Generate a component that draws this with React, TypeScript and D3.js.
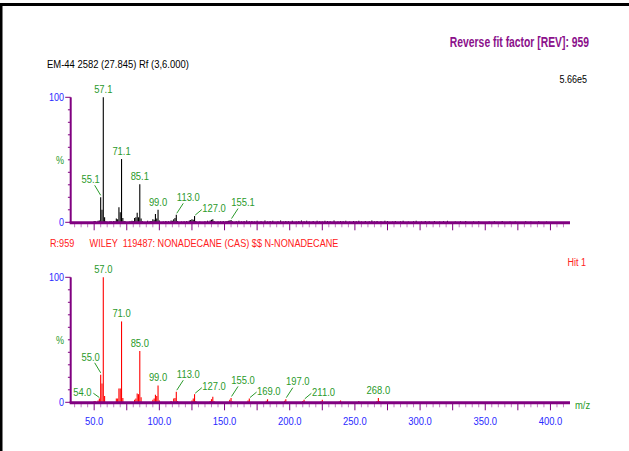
import React from "react";
import * as d3 from "d3";

// sample spectrum (top, black) – m/z and relative intensity in %
const sampleMz = [50, 51, 53, 54, 55, 56, 57, 58, 59, 60, 62, 63, 65, 66, 67, 68, 69, 70, 71, 72, 73, 74, 77, 78, 79, 80, 81, 82, 83, 84, 85, 86, 87, 91, 93, 94, 95, 96, 97, 98, 99, 100, 103, 105, 107, 109, 110, 111, 112, 113, 114, 117, 119, 121, 123, 124, 125, 126, 127, 128, 131, 135, 137, 139, 140, 141, 142, 145, 147, 149, 151, 152, 153, 154, 155, 156, 159, 161, 163, 165, 167, 169, 171, 173, 175, 178, 181, 183, 185, 187, 191, 193, 195, 197, 199, 202, 205, 207, 209, 211, 213, 215, 218, 221, 223, 225, 227, 229, 231, 234, 237, 239, 241, 243, 246, 249, 251, 253, 255, 258, 261, 263, 265, 267, 270, 273, 275, 279, 281, 285, 287, 291, 295, 297, 301, 304, 307, 311, 315, 318, 321, 327, 331, 335, 341, 345, 353, 357, 363, 369, 373, 381, 385, 391, 397];
const sampleInt = [1, 0.8, 1.2, 1.5, 20, 10, 100, 4, 0.8, 0.5, 0.6, 0.8, 1, 0.8, 3, 2.5, 12, 8, 50.6, 3.5, 1, 0.6, 0.7, 0.6, 1.2, 1, 3.5, 4, 7.7, 4, 30.4, 3, 0.8, 1.2, 1, 0.8, 2.5, 2, 6.6, 3, 10, 1.5, 0.6, 1, 0.8, 1.5, 1.2, 2.5, 3.5, 6, 1, 0.6, 0.8, 1, 1.5, 1.8, 2.5, 2, 5, 1, 0.7, 0.8, 1.2, 1.5, 2, 2.5, 1, 0.6, 0.8, 1, 0.8, 1, 1.2, 1.5, 1.8, 0.8, 0.9, 1.2, 0.7, 1, 1.4, 0.8, 1.1, 0.6, 1.3, 0.9, 1.5, 0.7, 1, 1.2, 0.8, 1.4, 0.6, 1.1, 0.9, 1.3, 0.7, 1, 1.5, 0.8, 1.2, 0.6, 1, 1.3, 0.9, 0.7, 1.2, 1, 0.8, 1.4, 0.6, 1.1, 0.9, 1.3, 0.7, 1, 0.8, 1.2, 0.6, 1.1, 0.9, 1.4, 0.7, 1, 0.8, 1.2, 1, 0.6, 1.1, 0.8, 1.3, 0.7, 0.9, 1.2, 0.6, 1, 0.8, 1.1, 0.7, 0.9, 1.2, 0.6, 0.8, 1, 0.7, 0.9, 0.6, 0.8, 1, 0.7, 0.6, 0.8, 0.7, 0.9, 0.6];

// library spectrum (bottom, red)
const libMz = [50, 51, 53, 54, 55, 56, 57, 58, 67, 68, 69, 70, 71, 72, 81, 82, 83, 84, 85, 86, 95, 96, 97, 98, 99, 100, 109, 111, 112, 113, 114, 125, 126, 127, 128, 139, 140, 141, 142, 154, 155, 156, 168, 169, 182, 183, 196, 197, 210, 211, 224, 225, 238, 239, 253, 267, 268, 269];
const libInt = [1, 0.8, 1.5, 3, 22, 15, 100, 5, 3, 3, 11, 11, 64.7, 3.5, 2, 3, 7, 6.5, 41, 4, 2, 3, 6, 5, 13.5, 1.5, 1, 3, 3.5, 8.5, 1, 1.5, 3, 6.5, 1, 1, 2.5, 4.5, 0.8, 2, 3.5, 0.6, 1.5, 3, 1.2, 2.5, 1.2, 2.5, 1, 2, 0.8, 2, 0.7, 1.5, 1, 1, 3.5, 1];

// peak annotations: m/z, text, placement kind
const sampleLabels: [number, string, string][] = [
  [55, "55.1", "upleft"], [57, "57.1", "above"], [71, "71.1", "above"], [85, "85.1", "above"],
  [99, "99.0", "above"], [113, "113.0", "upright"], [127, "127.0", "right"], [155, "155.1", "upright"],
];
const libLabels: [number, string, string][] = [
  [54, "54.0", "left"], [55, "55.0", "upleft"], [57, "57.0", "above"], [71, "71.0", "above"],
  [85, "85.0", "above"], [99, "99.0", "above"], [113, "113.0", "upright"], [127, "127.0", "right"],
  [155, "155.0", "upright"], [169, "169.0", "right"], [197, "197.0", "upright"], [211, "211.0", "right"],
  [268, "268.0", "above"],
];

const xTickValues = [50, 100, 150, 200, 250, 300, 350, 400];

const FONT = "'Liberation Sans', Arial, sans-serif";
const PURPLE = "#800080";
const LIGHT_PURPLE = "#c27ac2";
const GREEN = "#2a9a2a";
const BLUE = "#2a2aff";

// placement kinds: label centre offset + leader start/end, relative to peak top
const placements: Record<string, { dx: number; dy: number; leader?: number[] }> = {
  above: { dx: 0, dy: -4 },
  upright: { dx: 12, dy: -14, leader: [7, -11.5, 0.5, -1.5] },
  right: { dx: 19.5, dy: -3.8, leader: [7.3, -6.5, 0.7, -1] },
  upleft: { dx: -10, dy: -14, leader: [-6, -12, 0, -2] },
  left: { dx: -17, dy: -3, leader: [-6, -5.3, 0, -1] },
};

const x = d3.scaleLinear().domain([32, 415]).range([70.7, 570]);

// condensed text (narrow look of the original)
function T({ x, y, anchor = "start", size = 11.5, fill = "#000", weight = "normal", sx = 0.82, children }: any) {
  return (
    <text transform={`translate(${x},${y}) scale(${sx},1)`} textAnchor={anchor} fontSize={size} fontWeight={weight} fill={fill} fontFamily={FONT} style={{ whiteSpace: "pre" }}>
      {children}
    </text>
  );
}

function Panel({ y0, mz, inten, labels, color, showTickLabels }: any) {
  const y = d3.scaleLinear().domain([0, 100]).range([y0, y0 - 125]);
  const minor = d3.range(35, 415, 5);
  const yMinor = d3.range(0, 101, 10);
  return (
    <g>
      {mz.map((m: number, i: number) => (
        <line key={"p" + i} x1={x(m)} x2={x(m)} y1={y(0)} y2={y(inten[i])} stroke={color} strokeWidth={1.1} />
      ))}
      {labels.map(([m, t, kind]: [number, string, string], i: number) => {
        const idx = mz.indexOf(m);
        const px = x(m);
        const py = y(inten[idx]);
        const p = placements[kind];
        return (
          <g key={"l" + i}>
            <T x={px + p.dx} y={py + p.dy} anchor="middle" fill={GREEN}>{t}</T>
            {p.leader && (
              <line x1={px + p.leader[0]} y1={py + p.leader[1]} x2={px + p.leader[2]} y2={py + p.leader[3]} stroke={GREEN} strokeWidth={1} />
            )}
          </g>
        );
      })}
      {/* y axis */}
      <line x1={x(32)} x2={x(32)} y1={y(100)} y2={y(0) + 1} stroke={PURPLE} strokeWidth={2} />
      {yMinor.map((v) => (
        <line key={"yt" + v} x1={x(32) - (v === 0 || v === 100 ? 5.5 : 2.8)} x2={x(32)} y1={y(v)} y2={y(v)} stroke={PURPLE} strokeWidth={1} />
      ))}
      <T x={64} y={y(100) + 4} anchor="end" size={11} fill={BLUE}>100</T>
      <T x={64} y={y(0) + 4} anchor="end" size={11} fill={BLUE}>0</T>
      <T x={64} y={y(50) + 4} anchor="end" size={11} fill={GREEN}>%</T>
      {/* x axis */}
      {minor.map((v) => (
        <line key={"xt" + v} x1={x(v)} x2={x(v)} y1={y(0)} y2={y(0) + (v % 25 === 0 ? 8 : 5)} stroke={v % 25 === 0 ? PURPLE : LIGHT_PURPLE} strokeWidth={1} />
      ))}
      <line x1={x(32) - 1} x2={x(415)} y1={y(0) + 0.5} y2={y(0) + 0.5} stroke={PURPLE} strokeWidth={3} />
      {showTickLabels && xTickValues.map((v) => (
        <T key={"xl" + v} x={x(v)} y={y0 + 23} anchor="middle" fill={BLUE}>{v.toFixed(1)}</T>
      ))}
      {showTickLabels && (
        <T x={575} y={y0 + 7} fill={GREEN}>m/z</T>
      )}
    </g>
  );
}

export default function App() {
  return (
    <svg width={629} height={451} style={{ position: "absolute", left: 0, top: 0, background: "#fff" }}>
      <rect x={0} y={0} width={629} height={451} fill="#fff" />
      <line x1={0} x2={629} y1={4.5} y2={4.5} stroke="#000" strokeWidth={3} />
      <line x1={1} x2={1} y1={3} y2={451} stroke="#000" strokeWidth={3} />
      <T x={589} y={47} anchor="end" size={14} weight="bold" fill="#8b108b" sx={0.74}>Reverse fit factor [REV]: 959</T>
      <T x={47} y={68} size={11} sx={0.86}>EM-44 2582 (27.845) Rf (3,6.000)</T>
      <T x={587} y={83} anchor="end" size={11}>5.66e5</T>
      <T x={50} y={247} size={11} fill="#ff2020" sx={0.83}>{"R:959      WILEY  119487: NONADECANE (CAS) $$ N-NONADECANE"}</T>
      <T x={586} y={266} anchor="end" size={11} fill="#ff2020">Hit 1</T>
      <Panel y0={222.3} mz={sampleMz} inten={sampleInt} labels={sampleLabels} color="#000" showTickLabels={false} />
      <Panel y0={402.3} mz={libMz} inten={libInt} labels={libLabels} color="#ff0000" showTickLabels={true} />
    </svg>
  );
}
